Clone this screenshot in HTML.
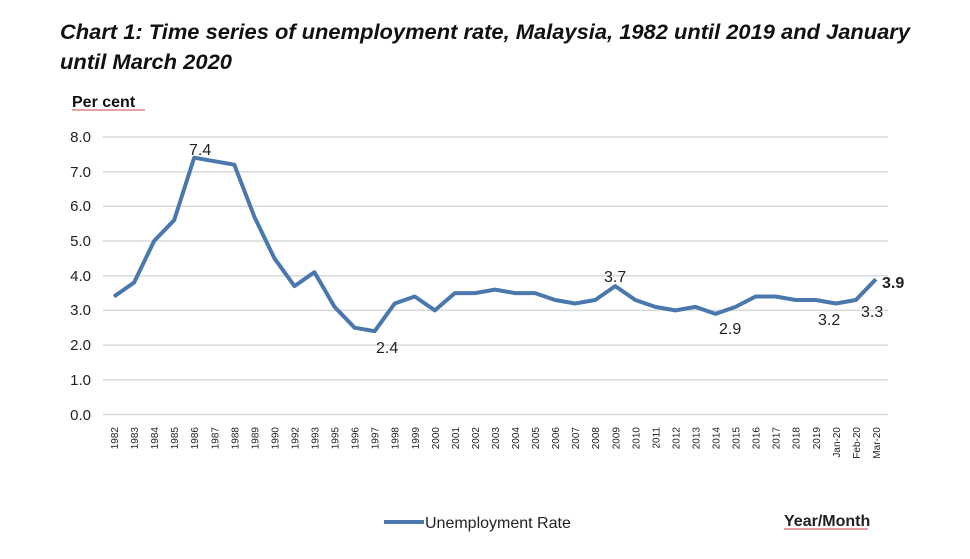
<!DOCTYPE html>
<html><head><meta charset="utf-8"><style>
body{margin:0;background:#fff;width:970px;height:554px;overflow:hidden;font-family:"Liberation Sans",Arial,sans-serif}
</style></head><body>
<svg width="970" height="554" xmlns="http://www.w3.org/2000/svg" font-family="Liberation Sans, Arial, sans-serif">
<text x="60" y="39" font-size="21.5" font-style="italic" font-weight="bold" fill="#111" textLength="850" lengthAdjust="spacingAndGlyphs">Chart 1: Time series of unemployment rate, Malaysia, 1982 until 2019 and January</text>
<text x="60" y="69" font-size="21.5" font-style="italic" font-weight="bold" fill="#111" textLength="172" lengthAdjust="spacingAndGlyphs">until March 2020</text>
<text x="72" y="107" font-size="16" font-weight="bold" fill="#111">Per cent</text>
<line x1="72" y1="110" x2="145" y2="110" stroke="#d04040" stroke-width="1"/>
<g stroke="#d9d9d9" stroke-width="1.5">
<line x1="103" y1="137" x2="888" y2="137"/><line x1="103" y1="171.7" x2="888" y2="171.7"/>
<line x1="103" y1="206.3" x2="888" y2="206.3"/><line x1="103" y1="241" x2="888" y2="241"/>
<line x1="103" y1="275.7" x2="888" y2="275.7"/><line x1="103" y1="310.4" x2="888" y2="310.4"/>
<line x1="103" y1="345.1" x2="888" y2="345.1"/><line x1="103" y1="379.8" x2="888" y2="379.8"/>
<line x1="103" y1="414.5" x2="888" y2="414.5"/></g>
<g font-size="15" fill="#222" text-anchor="end">
<text x="91" y="142">8.0</text><text x="91" y="177">7.0</text><text x="91" y="211">6.0</text>
<text x="91" y="246">5.0</text><text x="91" y="281">4.0</text><text x="91" y="315">3.0</text>
<text x="91" y="350">2.0</text><text x="91" y="385">1.0</text><text x="91" y="420">0.0</text></g>
<polyline fill="none" stroke="#4a78ad" stroke-width="4" stroke-linejoin="round" points="114,296.5 134.05,282.6 154.1,241 174.15,220.2 194.2,157.7 214.25,161.2 234.3,164.7 254.35,216.7 274.4,258.3 294.45,286.1 314.5,272.2 334.55,306.9 354.6,327.7 374.65,331.2 394.7,303.5 414.75,296.5 434.8,310.4 454.85,293.1 474.9,293.1 494.95,289.6 515,293.1 535.05,293.1 555.1,300 575.15,303.5 595.2,300 615.25,286.1 635.3,300 655.35,306.9 675.4,310.4 695.45,306.9 715.5,313.9 735.55,306.9 755.6,296.5 775.65,296.5 795.7,300 815.75,300 835.8,303.5 855.85,300 875.9,279.2"/>
<g font-size="16" fill="#222">
<text x="189" y="155">7.4</text><text x="376" y="353">2.4</text><text x="604" y="282">3.7</text>
<text x="719" y="334">2.9</text><text x="818" y="325">3.2</text><text x="861" y="317">3.3</text>
<text x="882" y="288" font-weight="bold">3.9</text></g>
<g font-size="10" fill="#222" text-anchor="end">
<text transform="translate(118,427) rotate(-90)">1982</text>
<text transform="translate(138.05,427) rotate(-90)">1983</text>
<text transform="translate(158.1,427) rotate(-90)">1984</text>
<text transform="translate(178.15,427) rotate(-90)">1985</text>
<text transform="translate(198.2,427) rotate(-90)">1986</text>
<text transform="translate(218.25,427) rotate(-90)">1987</text>
<text transform="translate(238.3,427) rotate(-90)">1988</text>
<text transform="translate(258.35,427) rotate(-90)">1989</text>
<text transform="translate(278.4,427) rotate(-90)">1990</text>
<text transform="translate(298.45,427) rotate(-90)">1992</text>
<text transform="translate(318.5,427) rotate(-90)">1993</text>
<text transform="translate(338.55,427) rotate(-90)">1995</text>
<text transform="translate(358.6,427) rotate(-90)">1996</text>
<text transform="translate(378.65,427) rotate(-90)">1997</text>
<text transform="translate(398.7,427) rotate(-90)">1998</text>
<text transform="translate(418.75,427) rotate(-90)">1999</text>
<text transform="translate(438.8,427) rotate(-90)">2000</text>
<text transform="translate(458.85,427) rotate(-90)">2001</text>
<text transform="translate(478.9,427) rotate(-90)">2002</text>
<text transform="translate(498.95,427) rotate(-90)">2003</text>
<text transform="translate(519,427) rotate(-90)">2004</text>
<text transform="translate(539.05,427) rotate(-90)">2005</text>
<text transform="translate(559.1,427) rotate(-90)">2006</text>
<text transform="translate(579.15,427) rotate(-90)">2007</text>
<text transform="translate(599.2,427) rotate(-90)">2008</text>
<text transform="translate(619.25,427) rotate(-90)">2009</text>
<text transform="translate(639.3,427) rotate(-90)">2010</text>
<text transform="translate(659.35,427) rotate(-90)">2011</text>
<text transform="translate(679.4,427) rotate(-90)">2012</text>
<text transform="translate(699.45,427) rotate(-90)">2013</text>
<text transform="translate(719.5,427) rotate(-90)">2014</text>
<text transform="translate(739.55,427) rotate(-90)">2015</text>
<text transform="translate(759.6,427) rotate(-90)">2016</text>
<text transform="translate(779.65,427) rotate(-90)">2017</text>
<text transform="translate(799.7,427) rotate(-90)">2018</text>
<text transform="translate(819.75,427) rotate(-90)">2019</text>
<text transform="translate(839.8,427) rotate(-90)">Jan-20</text>
<text transform="translate(859.85,427) rotate(-90)">Feb-20</text>
<text transform="translate(879.9,427) rotate(-90)">Mar-20</text></g>
<line x1="384" y1="522" x2="424" y2="522" stroke="#4a78ad" stroke-width="4"/>
<text x="425" y="528" font-size="16" fill="#222">Unemployment Rate</text>
<text x="784" y="526" font-size="16" font-weight="bold" fill="#222">Year/Month</text>
<line x1="784" y1="529" x2="868" y2="529" stroke="#d04040" stroke-width="1"/>
</svg>
</body></html>
